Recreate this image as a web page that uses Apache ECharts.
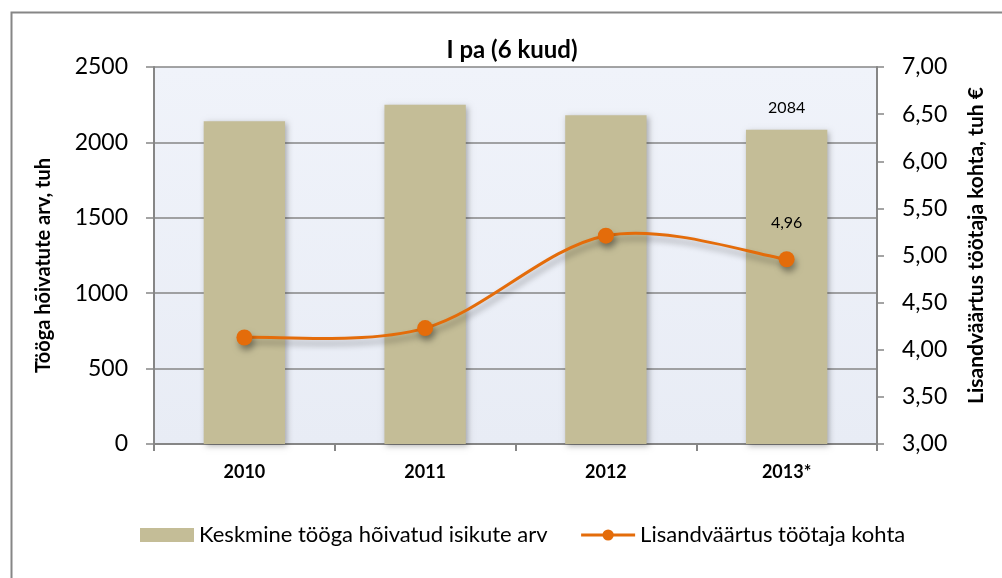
<!DOCTYPE html>
<html>
<head>
<meta charset="utf-8">
<script src="https://cdn.jsdelivr.net/npm/echarts@6/dist/echarts.min.js"></script>
<style>
  html, body { margin: 0; padding: 0; background: #fff; }
  #main { width: 1002px; height: 578px; }
</style>
</head>
<body>
<div id="main"></div>
<script>
  // andmed
  var years = ['2010', '2011', '2012', '2013*'];
  var employed = [2140, 2250, 2180, 2084];          // tuh
  var valuePerWorker = [4.13, 4.23, 5.21, 4.96];    // tuh €
  var barName = 'Keskmine tööga hõivatud isikute arv';
  var lineName = 'Lisandväärtus töötaja kohta';

  var font = 'Lato, "Open Sans", sans-serif';
  var grey = '#868686';
  var orange = '#E46C0A';

  var chart = echarts.init(document.getElementById('main'));

  // Exceli moodi silutud joon (Catmull-Rom -> Bezier), punktid läbi telje koordinaatide
  function renderCurve(params, api) {
    if (params.dataIndex !== 0) return null;
    var pts = valuePerWorker.map(function (v, i) { return api.coord([i, v]); });
    var n = pts.length;
    var d = 'M' + pts[0][0] + ',' + pts[0][1];
    for (var i = 0; i < n - 1; i++) {
      var p0 = pts[Math.max(i - 1, 0)], p1 = pts[i], p2 = pts[i + 1], p3 = pts[Math.min(i + 2, n - 1)];
      var c1x = p1[0] + (p2[0] - p0[0]) / 6, c1y = p1[1] + (p2[1] - p0[1]) / 6;
      var c2x = p2[0] - (p3[0] - p1[0]) / 6, c2y = p2[1] - (p3[1] - p1[1]) / 6;
      d += ' C' + c1x + ',' + c1y + ' ' + c2x + ',' + c2y + ' ' + p2[0] + ',' + p2[1];
    }
    return {
      type: 'path',
      shape: { pathData: d },
      style: {
        fill: 'none', stroke: orange, lineWidth: 3,
        shadowBlur: 6, shadowColor: 'rgba(0,0,0,0.35)', shadowOffsetX: 2, shadowOffsetY: 5
      },
      silent: true
    };
  }

  var option = {
    animation: false,
    textStyle: { fontFamily: font, color: '#000' },
    title: {
      text: 'I pa (6 kuud)',
      left: 507,
      top: 33,
      textAlign: 'center',
      textStyle: { fontFamily: font, fontSize: 24, fontWeight: 'bold', color: '#000' }
    },
    graphic: [{
      type: 'rect',
      left: 9, top: 10,
      shape: { width: 1100, height: 700 },
      style: { fill: 'none', stroke: grey, lineWidth: 2 },
      silent: true
    }],
    legend: {
      left: 135,
      top: 519,
      itemWidth: 54,
      itemHeight: 14,
      itemGap: 32,
      textStyle: { fontFamily: font, fontSize: 22, color: '#000' },
      data: [
        { name: barName, icon: 'rect' },
        { name: lineName, lineStyle: { color: orange, width: 3, opacity: 1 } }
      ]
    },
    grid: {
      left: 154, right: 125, top: 67, bottom: 134,
      show: true,
      borderWidth: 0,
      backgroundColor: {
        type: 'linear', x: 0, y: 0, x2: 0, y2: 1,
        colorStops: [{ offset: 0, color: '#F0F3FA' }, { offset: 1, color: '#E8ECF5' }]
      }
    },
    xAxis: {
      type: 'category',
      data: years,
      axisLine: { lineStyle: { color: grey, width: 2 } },
      axisTick: { show: true, length: 7, lineStyle: { color: grey, width: 2 } },
      axisLabel: { fontFamily: font, fontSize: 18, fontWeight: 'bold', color: '#000', margin: 19 }
    },
    yAxis: [{
      type: 'value',
      min: 0, max: 2500, interval: 500,
      name: 'Tööga hõivatute arv, tuh',
      nameLocation: 'middle',
      nameGap: 100,
      nameTextStyle: {
        fontFamily: font, fontSize: 20, fontWeight: 'bold', color: '#000',
        padding: [0, 20, 0, 0]
      },
      axisLine: { show: true, lineStyle: { color: grey, width: 2 } },
      axisTick: { show: true, length: 8, lineStyle: { color: grey, width: 1.5 } },
      axisLabel: {
        fontFamily: font, fontSize: 23, color: '#000', margin: 26,
        formatter: function (v) { return String(v); }
      },
      splitLine: { show: true, lineStyle: { color: grey, width: 1.5 } }
    }, {
      type: 'value',
      min: 3, max: 7, interval: 0.5,
      position: 'right',
      name: 'Lisandväärtus töötaja kohta, tuh €',
      nameLocation: 'middle',
      nameGap: 89,
      nameRotate: 90,
      nameTextStyle: {
        fontFamily: font, fontSize: 21, fontWeight: 'bold', color: '#000',
        padding: [0, 0, 0, 20]
      },
      axisLine: { show: true, lineStyle: { color: grey, width: 2 } },
      axisTick: { show: true, length: 7, lineStyle: { color: grey, width: 1.5 } },
      axisLabel: {
        fontFamily: font, fontSize: 23, color: '#000', margin: 25,
        formatter: function (v) { return v.toFixed(2).replace('.', ','); }
      },
      splitLine: { show: false }
    }],
    series: [{
      name: barName,
      type: 'bar',
      data: employed,
      barWidth: '45%',
      itemStyle: {
        color: '#C4BD97',
        shadowBlur: 6,
        shadowColor: 'rgba(0,0,0,0.3)',
        shadowOffsetX: 2,
        shadowOffsetY: 2
      },
      label: {
        show: true,
        position: 'top',
        distance: 14,
        fontFamily: font,
        fontSize: 16,
        color: '#000',
        formatter: function (p) { return p.dataIndex === 3 ? String(p.value) : ''; }
      }
    }, {
      name: 'curve',
      type: 'custom',
      yAxisIndex: 1,
      data: valuePerWorker.map(function (v, i) { return [i, v]; }),
      renderItem: renderCurve,
      z: 3
    }, {
      name: lineName,
      type: 'line',
      yAxisIndex: 1,
      data: valuePerWorker,
      symbol: 'circle',
      symbolSize: 16,
      z: 4,
      lineStyle: { color: orange, width: 3, opacity: 0 },
      itemStyle: {
        color: orange,
        shadowBlur: 6, shadowColor: 'rgba(0,0,0,0.35)', shadowOffsetX: 2, shadowOffsetY: 5
      },
      label: {
        show: true,
        position: 'top',
        distance: 20,
        fontFamily: font,
        fontSize: 16,
        color: '#000',
        formatter: function (p) { return p.dataIndex === 3 ? p.value.toFixed(2).replace('.', ',') : ''; }
      }
    }]
  };

  chart.setOption(option);

  window.addEventListener('resize', function () {
    chart.resize();
  });
</script>
</body>
</html>
